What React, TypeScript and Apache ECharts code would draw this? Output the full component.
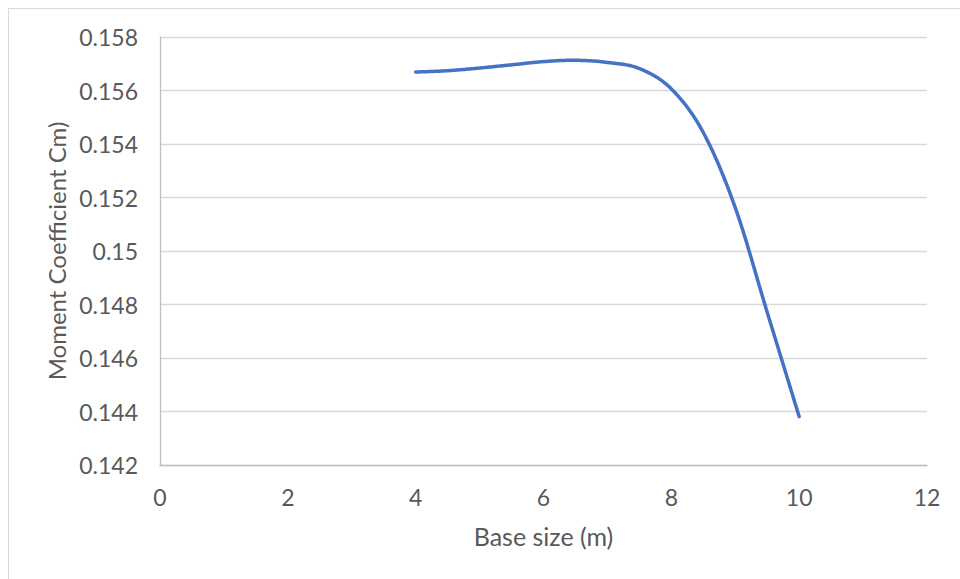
import React, { useEffect, useRef } from "react";
import * as echarts from "echarts";

const baseSize: number[] = [4, 4.5, 5, 5.5, 6, 6.5, 7, 7.5, 8, 8.5, 9, 9.5, 10];
const momentCoeff: number[] = [
  0.15669, 0.15674, 0.15684, 0.15696, 0.15708, 0.15713, 0.15705, 0.15682, 0.15606, 0.15443, 0.15162,
  0.14771, 0.14381,
];
const xTicks = { min: 0, max: 12, interval: 2 };
const yTicks = { min: 0.142, max: 0.158, interval: 0.002 };
const xTitle = "Base size (m)";
const yTitle = "Moment Coefficient Cm)";

export default function App() {
  const ref = useRef<HTMLDivElement>(null);
  useEffect(() => {
    if (!ref.current) return;
    const chart = echarts.init(ref.current, undefined, { renderer: "svg" });
    const font = "Lato, 'Open Sans', sans-serif";
    const pairs = baseSize.map((x, i) => [x, momentCoeff[i]]);
    const n = pairs.length;
    chart.setOption({
      animation: false,
      backgroundColor: "#ffffff",
      grid: { left: 151, right: 33, top: 28, bottom: 114, containLabel: false },
      xAxis: {
        type: "value",
        min: xTicks.min,
        max: xTicks.max,
        interval: xTicks.interval,
        name: xTitle,
        nameLocation: "middle",
        nameGap: 58,
        nameTextStyle: { color: "#595959", fontSize: 25, fontFamily: font },
        axisLine: { show: true, lineStyle: { color: "#bfbfbf", width: 1.3 } },
        axisTick: { show: false },
        axisLabel: { color: "#595959", fontSize: 23, fontFamily: font, margin: 20 },
        splitLine: { show: false },
      },
      yAxis: {
        type: "value",
        min: yTicks.min,
        max: yTicks.max,
        interval: yTicks.interval,
        name: yTitle,
        nameLocation: "middle",
        nameGap: 88,
        nameTextStyle: { color: "#595959", fontSize: 24, fontFamily: font },
        axisLine: { show: true, lineStyle: { color: "#bfbfbf", width: 1.3 } },
        axisTick: { show: false },
        axisLabel: {
          color: "#595959",
          fontSize: 23,
          fontFamily: font,
          margin: 22,
          formatter: (v: number) => String(parseFloat(v.toFixed(3))),
        },
        splitLine: { show: true, lineStyle: { color: "#d9d9d9", width: 1.3 } },
      },
      series: [
        {
          type: "custom",
          coordinateSystem: "cartesian2d",
          data: pairs,
          clip: false,
          renderItem: (params: any, api: any) => {
            if (params.dataIndex !== 0) return { type: "group", children: [] };
            const pts = pairs.map((d) => api.coord(d));
            const p = (k: number) => pts[Math.max(0, Math.min(n - 1, k))];
            const out: number[][] = [];
            const t6 = 1 / 6;
            for (let i = 0; i < n - 1; i++) {
              const p0 = p(i - 1), p1 = p(i), p2 = p(i + 1), p3 = p(i + 2);
              const c1 = [p1[0] + (p2[0] - p0[0]) * t6, p1[1] + (p2[1] - p0[1]) * t6];
              const c2 = [p2[0] - (p3[0] - p1[0]) * t6, p2[1] - (p3[1] - p1[1]) * t6];
              const steps = 30;
              for (let s = i === 0 ? 0 : 1; s <= steps; s++) {
                const t = s / steps;
                const u = 1 - t;
                const b0 = u * u * u, b1 = 3 * u * u * t, b2 = 3 * u * t * t, b3 = t * t * t;
                out.push([
                  b0 * p1[0] + b1 * c1[0] + b2 * c2[0] + b3 * p2[0],
                  b0 * p1[1] + b1 * c1[1] + b2 * c2[1] + b3 * p2[1],
                ]);
              }
            }
            return {
              type: "polyline",
              shape: { points: out },
              style: { stroke: "#4472C4", lineWidth: 3.5, fill: null, lineCap: "round", lineJoin: "round" },
            };
          },
        },
      ],
    });
    return () => chart.dispose();
  }, []);
  return (
    <div
      style={{
        position: "absolute",
        left: 8,
        top: 8,
        width: 952,
        height: 571,
        boxSizing: "border-box",
        borderLeft: "1px solid #d9d9d9",
        borderTop: "1px solid #d9d9d9",
        background: "#fff",
      }}
    >
      <div ref={ref} style={{ width: 951, height: 570 }} />
    </div>
  );
}
